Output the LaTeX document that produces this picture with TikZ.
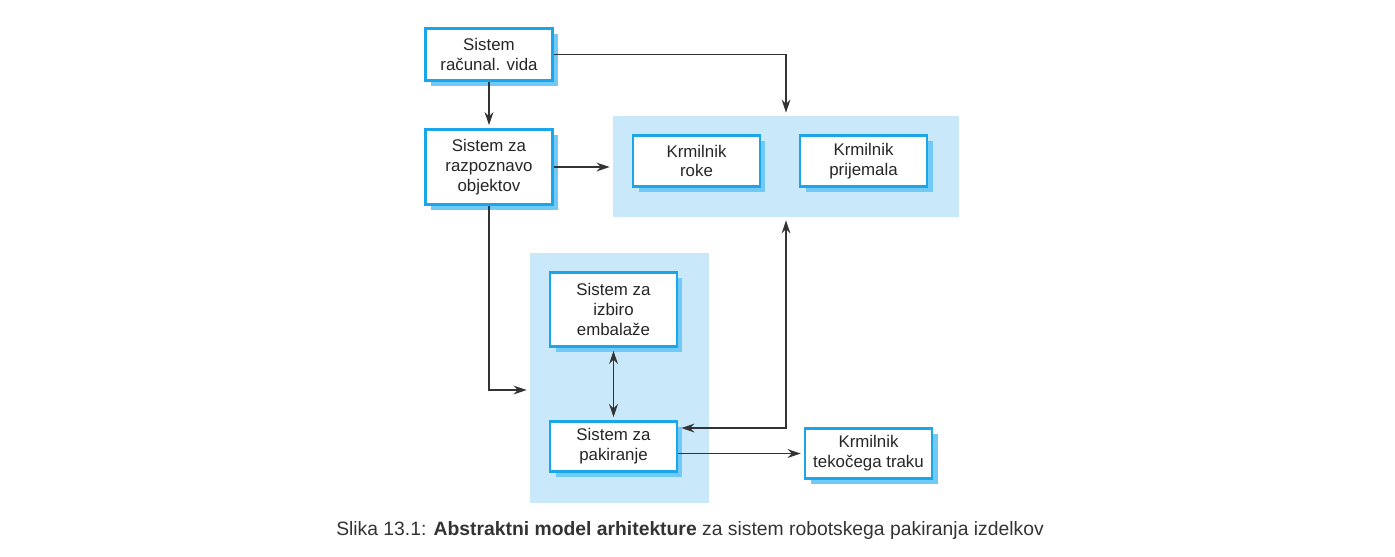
\documentclass[tikz,border=0pt]{standalone}
\usepackage{fontspec}
\setmainfont{Liberation Sans}
\usetikzlibrary{arrows.meta,positioning,shadows}

\definecolor{boxline}{RGB}{27,166,234}
\definecolor{boxshade}{RGB}{112,201,246}
\definecolor{groupfill}{RGB}{201,233,251}
\definecolor{arrowgray}{RGB}{51,51,51}

\begin{document}
\begin{tikzpicture}[
  x=0.02cm, y=-0.02cm,
  >={Stealth[length=7.5pt,width=5pt]},
  font=\fontsize{9.6}{11.3}\selectfont,
  sysbox/.style={draw=boxline,line width=1.5pt,fill=white,text=black!85,
    align=center,minimum width=2.54cm,inner sep=2pt,
    drop shadow={shadow xshift=0.11cm,shadow yshift=-0.11cm,fill=boxshade,opacity=1}},
  group/.style={fill=groupfill,inner sep=0pt},
  arr/.style={->,draw=arrowgray,line width=0.85pt,shorten >=1.7pt},
  darr/.style={<->,draw=arrowgray,line width=0.85pt,shorten >=1.7pt,shorten <=1.7pt}
]
\useasboundingbox (0,0) rectangle (1395,556);

% -------------------------
% Groups (light blue backgrounds)
% -------------------------
\node[group,minimum width=6.92cm,minimum height=2.02cm] (grpA) at (786,166.5) {};
\node[group,minimum width=3.58cm,minimum height=5.0cm] (grpB) at (619.5,378) {};

% -------------------------
% Boxes
% -------------------------
\node[sysbox,minimum height=1.04cm] (vida)   at (489,54.5)  {Sistem\\računal. vida};
\node[sysbox,minimum height=1.5cm]  (razp)   at (489,167)   {Sistem za\\razpoznavo\\objektov};
\node[sysbox,minimum height=1.02cm] (roke)   at (696.5,161) {Krmilnik\\roke};
\node[sysbox,minimum height=1.02cm] (prij)   at (863.5,161) {Krmilnik\\prijemala};
\node[sysbox,minimum height=1.48cm] (izbiro) at (613.5,309.5) {Sistem za\\izbiro\\embalaže};
\node[sysbox,minimum height=1.0cm]  (pak)    at (613.5,446.5) {Sistem za\\pakiranje};
\node[sysbox,minimum height=1.0cm]  (trak)   at (868.5,453.5) {Krmilnik\\tekočega traku};

% -------------------------
% Connectors
% -------------------------
\draw[arr] (vida.east) -| (grpA.north);
\draw[arr] (vida.south) -- (razp.north);
\draw[arr] (razp.east) -- (razp.east -| grpA.west);
\draw[arr] (razp.south) |- (grpB.west |- 0,390);
\draw[darr] (izbiro.south) -- (pak.north);
\draw[darr] (grpA.south) |- (pak.east |- 0,428);
\draw[arr] (pak.east |- trak.west) -- (trak.west);

% caption
\node[text=arrowgray,font=\fontsize{11}{13}\selectfont] (caption) at (690,530)
  {Slika 13.1: \textbf{Abstraktni model arhitekture} za sistem robotskega pakiranja izdelkov};

\end{tikzpicture}
\end{document}
